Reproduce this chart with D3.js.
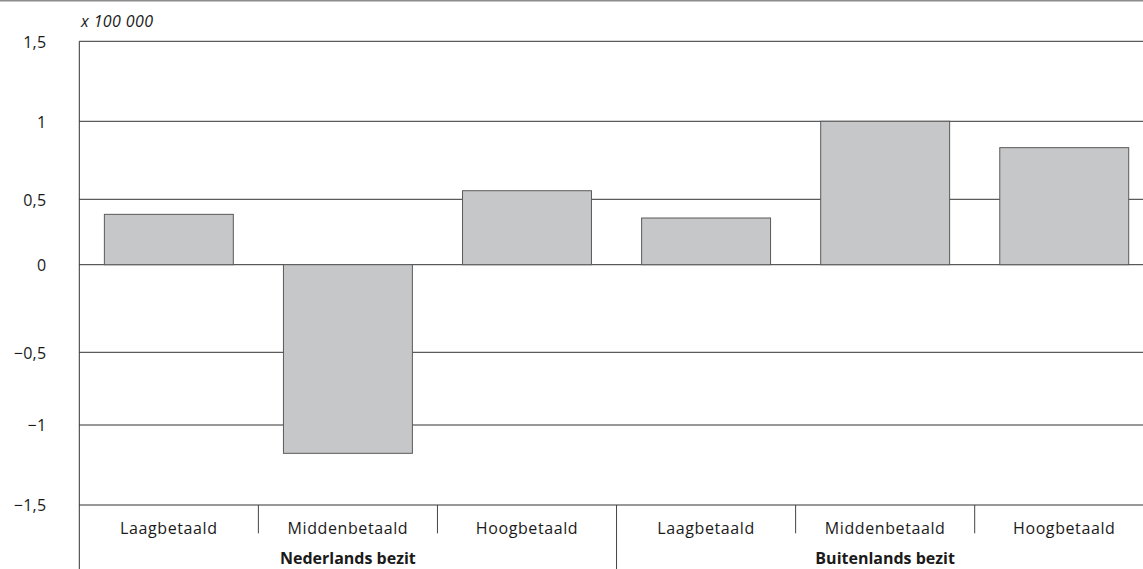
<!DOCTYPE html>
<html>
<head>
<meta charset="utf-8">
<script src="https://cdnjs.cloudflare.com/ajax/libs/d3/7.8.5/d3.min.js"></script>
<style>
  body { margin: 0; background: #fff; }
  text { font-family: "Open Sans", sans-serif; fill: #1a1a1a; }
</style>
</head>
<body>
<div id="chart"></div>
<script>
// data
const categories = ["Laagbetaald", "Middenbetaald", "Hoogbetaald", "Laagbetaald", "Middenbetaald", "Hoogbetaald"];
const groups = ["Nederlands bezit", "Buitenlands bezit"];
const values = [0.385, -1.177, 0.555, 0.357, 1.0, 0.831];
const yTicks = [-1.5, -1, -0.5, 0, 0.5, 1, 1.5];
const yTickLabels = ["\u22121,5", "\u22121", "\u22120,5", "0", "0,5", "1", "1,5"];
const unitLabel = "x 100 000";

const W = 1143, H = 569;
const left = 79.3, plotTop = 41.3, plotBottom = 505;
// the gridlines in the original are not evenly spaced
const yRange = [505, 425, 352.3, 264.7, 199.3, 121.3, 41.3];

const svg = d3.select("#chart")
              .append("svg")
              .attr("width", W)
              .attr("height", H);

const x = d3.scaleBand()
            .domain(d3.range(categories.length))
            .range([left, left + 6 * 179.08])
            .paddingInner(0.28)
            .paddingOuter(0.14);

const y = d3.scaleLinear()
            .domain(yTicks)
            .range(yRange);

// top border
svg.append("line")
   .attr("x1", 0).attr("x2", W)
   .attr("y1", 0.75).attr("y2", 0.75)
   .attr("stroke", "#8c8c8c")
   .attr("stroke-width", 1.5);

// gridlines
svg.append("g")
   .selectAll("line")
   .data(yTicks)
   .join("line")
   .attr("x1", left).attr("x2", W)
   .attr("y1", d => y(d)).attr("y2", d => y(d))
   .attr("stroke", "#333")
   .attr("stroke-width", 1);

// y labels
svg.append("g")
   .selectAll("text")
   .data(yTicks)
   .join("text")
   .attr("x", 46.5)
   .attr("y", d => y(d))
   .attr("dy", "0.4em")
   .attr("text-anchor", "end")
   .style("font-size", "16px")
   .style("letter-spacing", "0.3px")
   .text((d, i) => yTickLabels[i]);

svg.append("text")
   .attr("x", 81)
   .attr("y", 27.3)
   .style("font-size", "16px")
   .style("font-style", "italic")
   .style("letter-spacing", "0.4px")
   .text(unitLabel);

// bars
svg.append("g")
   .selectAll("rect")
   .data(values)
   .join("rect")
   .attr("x", (d, i) => x(i))
   .attr("width", x.bandwidth())
   .attr("y", d => y(Math.max(0, d)))
   .attr("height", d => Math.abs(y(d) - y(0)))
   .attr("fill", "#c6c7c9")
   .attr("stroke", "#5a5a5a")
   .attr("stroke-width", 1);

// left axis line
svg.append("line")
   .attr("x1", left).attr("x2", left)
   .attr("y1", plotTop).attr("y2", H)
   .attr("stroke", "#333");

// category dividers
const step = x.step();
svg.append("g")
   .selectAll("line")
   .data(d3.range(1, categories.length))
   .join("line")
   .attr("x1", i => left + i * step).attr("x2", i => left + i * step)
   .attr("y1", plotBottom)
   .attr("y2", i => i === 3 ? H : 533.3)
   .attr("stroke", "#444");

// category labels
svg.append("g")
   .selectAll("text")
   .data(categories)
   .join("text")
   .attr("x", (d, i) => x(i) + x.bandwidth() / 2)
   .attr("y", 534.3)
   .attr("text-anchor", "middle")
   .style("font-size", "16px")
   .style("letter-spacing", "0.6px")
   .text(d => d);

// group labels
svg.append("g")
   .selectAll("text")
   .data(groups)
   .join("text")
   .attr("x", (d, i) => left + (i * 3 + 1.5) * step)
   .attr("y", 563.5)
   .attr("text-anchor", "middle")
   .style("font-size", "16px")
   .style("font-weight", "bold")
   .text(d => d);
</script>
</body>
</html>
